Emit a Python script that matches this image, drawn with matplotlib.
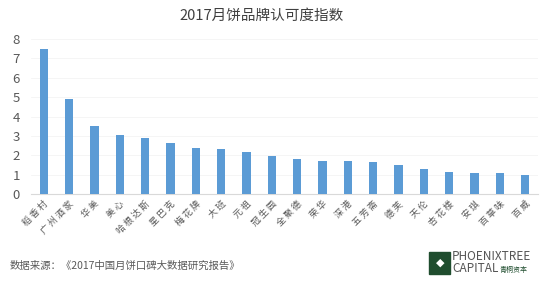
import matplotlib.pyplot as plt
from matplotlib.patches import Rectangle

plt.rcParams['font.family'] = ['Noto Sans CJK SC', 'DejaVu Sans']

brands = ['稻香村', '广州酒家', '华美', '美心', '哈根达斯', '星巴克', '梅花牌', '大班',
          '元祖', '冠生园', '全聚德', '荣华', '深港', '五芳斋', '德芙', '天伦',
          '杏花楼', '安琪', '百草味', '百威']
values = [7.46, 4.93, 3.49, 3.04, 2.89, 2.63, 2.36, 2.34, 2.15, 1.96, 1.79, 1.72,
          1.68, 1.63, 1.48, 1.27, 1.12, 1.07, 1.07, 0.96]

fig = plt.figure(figsize=(5.48, 2.87), dpi=100)
ax = fig.add_axes([0.0566, 0.324, 0.925, 0.54])

x = range(len(brands))
ax.bar(x, values, width=0.33, color='#5B9BD5', zorder=3)
ax.set_xlim(-0.5, len(brands) - 0.5)
ax.set_ylim(0, 8)
ax.set_yticks(range(9))
ax.tick_params(axis='y', length=0, labelsize=9.5, labelcolor='#595959', pad=8)
ax.set_xticks(list(x))
# spaced characters like the original rendering
ax.set_xticklabels([' '.join(b) for b in brands], rotation=45, ha='right',
                   rotation_mode='anchor', fontsize=6.5, color='#595959')
ax.tick_params(axis='x', length=0, pad=4)
ax.grid(axis='y', color='#f4f4f4', linewidth=0.6, zorder=0)
for s in ['top', 'right', 'left']:
    ax.spines[s].set_visible(False)
ax.spines['bottom'].set_color('#d9d9d9')

fig.text(0.477, 0.945, '2017月饼品牌认可度指数', ha='center', va='center',
         fontsize=10.5, color='#404040')
fig.text(0.018, 0.073, '数据来源：《2017中国月饼口碑大数据研究报告》', ha='left',
         va='center', fontsize=7.5, color='#595959')

# logo
fig.patches.append(Rectangle((429 / 548, 13 / 287), 21 / 548, 22 / 287,
                             transform=fig.transFigure, color='#1f4d2e'))
fig.text(440 / 548, 24 / 287, '◆', ha='center', va='center', fontsize=8,
         color='white', family='DejaVu Sans')
fig.text(452 / 548, 30 / 287, 'PHOENIXTREE', ha='left', va='center',
         fontsize=8.5, color='#555555')
fig.text(452 / 548, 18 / 287, 'CAPITAL', ha='left', va='center',
         fontsize=8.5, color='#555555')
fig.text(500 / 548, 17 / 287, '青桐资本', ha='left', va='center',
         fontsize=5, color='#1f4d2e')

fig.savefig('out.png', dpi=100)
